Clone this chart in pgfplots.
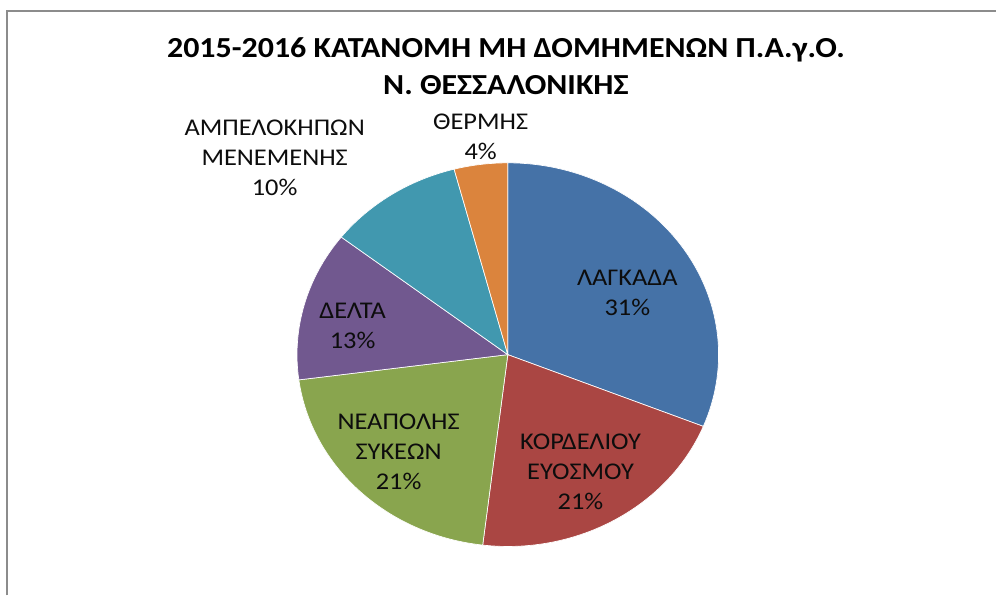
\documentclass[border=0pt]{standalone}
\usepackage{fontspec}
\setmainfont[FakeStretch=1.1]{Carlito}
\usepackage{pgfplots}
\usepackage{pgfplotstable}
\pgfplotsset{compat=1.18}

\definecolor{cLag}{HTML}{4572A7}
\definecolor{cKor}{HTML}{AA4643}
\definecolor{cNea}{HTML}{89A54E}
\definecolor{cDel}{HTML}{71588F}
\definecolor{cAmp}{HTML}{4198AF}
\definecolor{cThe}{HTML}{DB843D}
\definecolor{frame}{HTML}{8C8C8C}

\tikzset{lbl/.style={font=\fontsize{18}{22.5}\selectfont, align=center, text=black!95}}

% shares in %, clockwise from 12 o'clock
\pgfplotstableread{
share col
31.1 cLag
20.8 cKor
21.0 cNea
12.6 cDel
10.4 cAmp
4.1  cThe
}\piedata

\begin{document}
\begin{tikzpicture}
\begin{axis}[
  x=158.25pt, y=144pt,
  xmin=-2.409, xmax=2.316, ymin=-1.255, ymax=1.849,
  hide axis, clip=false,
]
\path (rel axis cs:0,0) rectangle (rel axis cs:1,1);
\draw[frame, line width=1.5pt] (axis cs:-2.376,-1.255) -- (axis cs:-2.376,1.792) -- (axis cs:2.316,1.792);

\def\cum{0}
\pgfplotsforeachungrouped \i in {0,...,5}{%
  \pgfplotstablegetelem{\i}{share}\of\piedata \let\sh\pgfplotsretval
  \pgfplotstablegetelem{\i}{col}\of\piedata \let\col\pgfplotsretval
  \pgfmathsetmacro\aa{90-3.6*\cum}
  \pgfmathsetmacro\cum{\cum+\sh}
  \pgfmathsetmacro\bb{90-3.6*\cum}
  \pgfmathsetmacro\xa{cos(\aa)}
  \pgfmathsetmacro\ya{sin(\aa)}
  \edef\temp{\noexpand\fill[\col, draw=white, line width=0.5pt] (axis cs:0,0) -- (axis cs:\xa,\ya) arc[start angle=\aa, end angle=\bb, x radius=158.25pt, y radius=144pt] -- cycle;}%
  \temp
}

\node[font=\fontsize{21.8}{27.75}\selectfont\bfseries, align=center] at (axis cs:-0.009,1.503)
  {2015-2016 ΚΑΤΑΝΟΜΗ ΜΗ ΔΟΜΗΜΕΝΩΝ Π.Α.γ.Ο.\\Ν. ΘΕΣΣΑΛΟΝΙΚΗΣ};
\node[lbl] at (axis cs:0.567,0.320) {ΛΑΓΚΑΔΑ\\31\%};
\node[lbl] at (axis cs:0.345,-0.609) {ΚΟΡΔΕΛΙΟΥ\\ΕΥΟΣΜΟΥ\\21\%};
\node[lbl] at (axis cs:-0.518,-0.508) {ΝΕΑΠΟΛΗΣ\\ΣΥΚΕΩΝ\\21\%};
\node[lbl] at (axis cs:-0.736,0.151) {ΔΕΛΤΑ\\13\%};
\node[lbl] at (axis cs:-1.106,1.026) {ΑΜΠΕΛΟΚΗΠΩΝ\\ΜΕΝΕΜΕΝΗΣ\\10\%};
\node[lbl] at (axis cs:-0.129,1.135) {ΘΕΡΜΗΣ\\4\%};
\end{axis}
\end{tikzpicture}
\end{document}
